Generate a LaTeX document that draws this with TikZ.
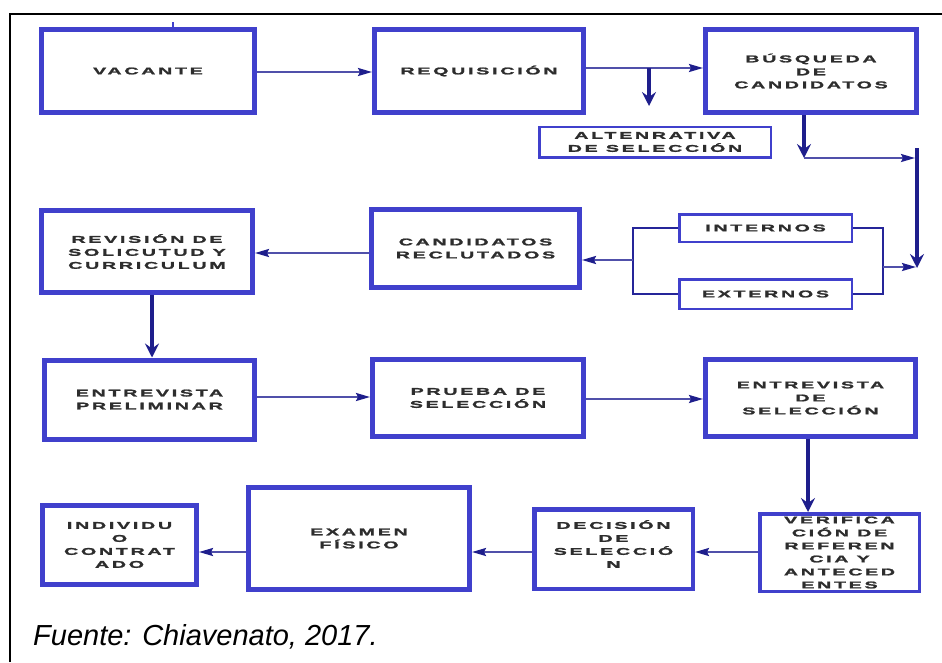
\documentclass[tikz,border=0pt]{standalone}
\usepackage{fontspec}
\usetikzlibrary{arrows.meta}
\newfontfamily\boxfont[FakeStretch=2.0,LetterSpace=28,FakeBold=2]{Liberation Sans Bold}
\newfontfamily\capfont{Liberation Sans Italic}
\definecolor{boxblue}{RGB}{64,64,204}
\definecolor{navyarrow}{RGB}{30,30,140}
\definecolor{thinline}{RGB}{80,80,170}
\definecolor{txt}{RGB}{45,45,45}
\tikzset{
  bigbox/.style={draw=boxblue, line width=5pt, fill=white, inner sep=0pt, align=center,
    font=\boxfont\fontsize{9.8}{13}\selectfont, text=txt},
  thinbox/.style={bigbox, line width=2.5pt},
  thinarrow/.style={draw=thinline, line width=2pt, -{Stealth[length=14pt,width=8pt,inset=2pt,color=navyarrow]}},
  thickarrow/.style={draw=navyarrow, line width=3.5pt, -{Stealth[length=14pt,width=14pt,inset=5pt]}},
  bracket/.style={draw=navyarrow!80!boxblue, line width=2.5pt},
}
\begin{document}
\begin{tikzpicture}[x=1pt,y=-1pt]
\useasboundingbox (0,0) rectangle (942,662);
% frame
\draw[black, line width=2.5pt] (10,662) -- (10,14) -- (942,14);
\draw[boxblue, line width=2pt] (173,22) -- (173,27);
% nodes
\node[bigbox, minimum width=213pt, minimum height=83pt] (vac) at (148,71) {VACANTE};
\node[bigbox, minimum width=209pt, minimum height=83pt] (req) at (479,71) {REQUISICIÓN};
\node[bigbox, minimum width=211pt, minimum height=83pt] (bus) at (811,71) {BÚSQUEDA\\DE\\CANDIDATOS};
\node[thinbox, minimum width=231.5pt, minimum height=30.5pt] (alt) at (655,142) {ALTENRATIVA\\DE SELECCIÓN};
\node[thinbox, minimum width=172.5pt, minimum height=27.5pt] (int) at (765.5,228) {INTERNOS};
\node[thinbox, minimum width=172.5pt, minimum height=29.5pt] (ext) at (765.5,294) {EXTERNOS};
\node[bigbox, minimum width=208pt, minimum height=78pt] (cand) at (475.5,248.5) {CANDIDATOS\\RECLUTADOS};
\node[bigbox, minimum width=211pt, minimum height=82pt] (rev) at (147,251.5) {REVISIÓN DE\\SOLICUTUD Y\\CURRICULUM};
\node[bigbox, minimum width=210pt, minimum height=79pt] (pre) at (149.5,399.5) {ENTREVISTA\\PRELIMINAR};
\node[bigbox, minimum width=211pt, minimum height=77pt] (pru) at (478,398) {PRUEBA DE\\SELECCIÓN};
\node[bigbox, minimum width=210pt, minimum height=77pt] (sel) at (810.5,398) {ENTREVISTA\\DE\\SELECCIÓN};
\node[bigbox, line width=3.5pt, minimum width=159.5pt, minimum height=77.5pt] (ver) at (839.5,552.5) {VERIFICA\\CIÓN DE\\REFEREN\\CIA Y\\ANTECED\\ENTES};
\node[bigbox, line width=4.5pt, minimum width=158.5pt, minimum height=79.5pt] (dec) at (613.5,549) {DECISIÓN\\DE\\SELECCIÓ\\N\\[-3pt]};
\node[bigbox, minimum width=221pt, minimum height=102pt] (exa) at (359,538.5) {EXAMEN\\FÍSICO};
\node[bigbox, minimum width=154pt, minimum height=79pt] (ind) at (119.5,545) {INDIVIDU\\O\\CONTRAT\\ADO};
% coordinates
\coordinate (br1) at (649,68);
\coordinate (br1e) at (649,106);
\coordinate (bj) at (804,158);
\coordinate (bje) at (915,158);
\coordinate (vtop) at (917,148);
\coordinate (vbot) at (917,268);
\coordinate (rb) at (883,267);
\coordinate (rbe) at (916,267);
\coordinate (lb) at (633,260);
% connectors
\draw[thinarrow] ([yshift=-1pt]vac.east) -- ([yshift=-1pt]req.west);
\draw[thinarrow] ([yshift=3pt]req.east) -- ([yshift=3pt]bus.west);
\draw[thickarrow] (br1) -- (br1e);
\draw[thickarrow] ([xshift=-7pt]bus.south) -- (bj);
\draw[thinarrow] (bj) -- (bje);
\draw[thickarrow] (vtop) -- (vbot);
\draw[bracket] (int.east) -| (rb) |- (ext.east);
\draw[thinarrow] (rb) -- (rbe);
\draw[bracket] (int.west) -| (lb) |- (ext.west);
\draw[thinarrow] (lb) -- (cand.east |- lb);
\draw[thinarrow] ([yshift=-4.5pt]cand.west) -- ([yshift=-4.5pt]cand.west -| rev.east);
\draw[thickarrow] ([xshift=5pt]rev.south) -- ([xshift=5pt]rev.south |- pre.north);
\draw[thinarrow] ([yshift=2.5pt]pre.east) -- ([yshift=2.5pt]pre.east -| pru.west);
\draw[thinarrow] ([yshift=-1pt]pru.east) -- ([yshift=-1pt]pru.east -| sel.west);
\draw[thickarrow] ([xshift=-2.5pt]sel.south) -- ([xshift=-2.5pt]sel.south |- ver.north);
\draw[thinarrow] ([yshift=0.5pt]ver.west) -- ([yshift=0.5pt]ver.west -| dec.east);
\draw[thinarrow] ([yshift=-3pt]dec.west) -- ([yshift=-3pt]dec.west -| exa.east);
\draw[thinarrow] ([yshift=-13.5pt]exa.west) -- ([yshift=-13.5pt]exa.west -| ind.east);
% caption
\node[anchor=base west, inner sep=0pt, font=\capfont\fontsize{29}{34}\selectfont] (cap) at (33,645) {Fuente: Chiavenato, 2017.};
\end{tikzpicture}
\end{document}
